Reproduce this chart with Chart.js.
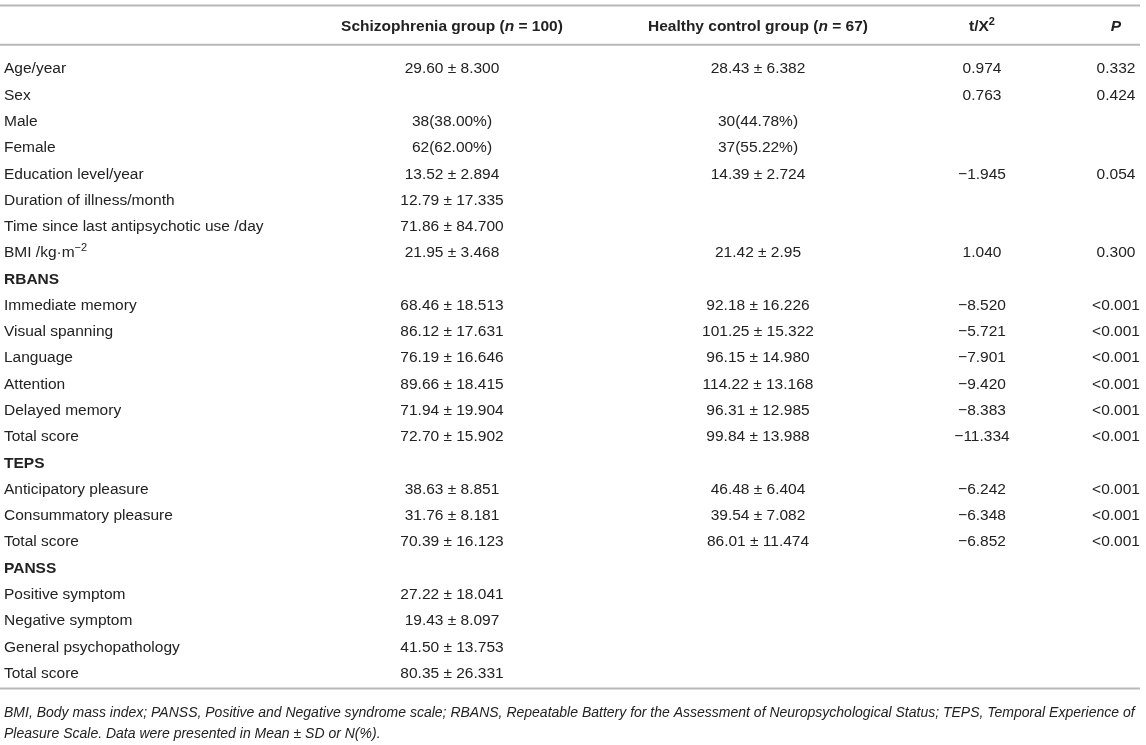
<!DOCTYPE html>
<html>
<head>
<meta charset="utf-8">
<script src="https://cdn.jsdelivr.net/npm/chart.js@4.4.1/dist/chart.umd.min.js"></script>
<style>
  body { margin: 0; background: #fff; }
  #wrap { width: 1146px; height: 745px; position: relative; }
</style>
</head>
<body>
<div id="wrap"><canvas id="tableChart"></canvas></div>
<script>
// Table content. _x_ = italic, ^x^ = superscript
const columnHeaders = ['', 'Schizophrenia group (_n_ = 100)', 'Healthy control group (_n_ = 67)', 't/X^2^', '_P_'];

const rowLabels = ['Age/year', 'Sex', 'Male', 'Female', 'Education level/year', 'Duration of illness/month',
  'Time since last antipsychotic use /day', 'BMI /kg·m^−2^', 'RBANS', 'Immediate memory', 'Visual spanning',
  'Language', 'Attention', 'Delayed memory', 'Total score', 'TEPS', 'Anticipatory pleasure',
  'Consummatory pleasure', 'Total score', 'PANSS', 'Positive symptom', 'Negative symptom',
  'General psychopathology', 'Total score'];

const sectionRows = ['RBANS', 'TEPS', 'PANSS'];

const schizophreniaValues = ['29.60 ± 8.300', '', '38(38.00%)', '62(62.00%)', '13.52 ± 2.894', '12.79 ± 17.335',
  '71.86 ± 84.700', '21.95 ± 3.468', '', '68.46 ± 18.513', '86.12 ± 17.631', '76.19 ± 16.646', '89.66 ± 18.415',
  '71.94 ± 19.904', '72.70 ± 15.902', '', '38.63 ± 8.851', '31.76 ± 8.181', '70.39 ± 16.123', '',
  '27.22 ± 18.041', '19.43 ± 8.097', '41.50 ± 13.753', '80.35 ± 26.331'];

const healthyValues = ['28.43 ± 6.382', '', '30(44.78%)', '37(55.22%)', '14.39 ± 2.724', '', '',
  '21.42 ± 2.95', '', '92.18 ± 16.226', '101.25 ± 15.322', '96.15 ± 14.980', '114.22 ± 13.168',
  '96.31 ± 12.985', '99.84 ± 13.988', '', '46.48 ± 6.404', '39.54 ± 7.082', '86.01 ± 11.474', '',
  '', '', '', ''];

const testValues = ['0.974', '0.763', '', '', '−1.945', '', '', '1.040', '', '−8.520', '−5.721', '−7.901',
  '−9.420', '−8.383', '−11.334', '', '−6.242', '−6.348', '−6.852', '', '', '', '', ''];

const pValues = ['0.332', '0.424', '', '', '0.054', '', '', '0.300', '', '<0.001', '<0.001', '<0.001',
  '<0.001', '<0.001', '<0.001', '', '<0.001', '<0.001', '<0.001', '', '', '', '', ''];

const footnoteLines = [
  'BMI, Body mass index; PANSS, Positive and Negative syndrome scale; RBANS, Repeatable Battery for the Assessment of Neuropsychological Status; TEPS, Temporal Experience of',
  'Pleasure Scale. Data were presented in Mean ± SD or N(%).'
];

// Layout (x in px, y in row units)
const FONT = '"Liberation Sans", Arial, sans-serif';
const TEXT_COLOR = '#222';
const RULE_COLOR = '#b8b8b8';
const colX = [4, 452, 758, 982, 1116];
const colAlign = ['left', 'center', 'center', 'center', 'center'];
const headerY = -1.6;
const ruleY = [-2.42, -0.93, 23.57];
const footnoteY = [24.5, 25.3];

function parseRich(str) {
  return str.split(/(_[^_]+_|\^[^^]+\^)/).filter(s => s).map(s => {
    if (s.length > 2 && s[0] === '_' && s.endsWith('_')) return { t: s.slice(1, -1), italic: true };
    if (s.length > 2 && s[0] === '^' && s.endsWith('^')) return { t: s.slice(1, -1), sup: true };
    return { t: s };
  });
}

function drawRich(ctx, str, x, y, align, style) {
  const size = style.size || 15.5;
  const segs = parseRich(str);
  const fontFor = s => `${style.italic || s.italic ? 'italic ' : ''}${style.bold ? 'bold ' : ''}${s.sup ? Math.round(size * 0.68) : size}px ${FONT}`;
  let total = 0;
  segs.forEach(s => { ctx.font = fontFor(s); s.w = ctx.measureText(s.t).width; total += s.w; });
  let cx = align === 'left' ? x : align === 'right' ? x - total : x - total / 2;
  segs.forEach(s => {
    ctx.font = fontFor(s);
    ctx.fillText(s.t, cx, s.sup ? y - size * 0.36 : y);
    cx += s.w;
  });
}

// Build cell datasets: each text cell is an invisible point positioned by the scales
function cellDataset(texts, col, rows, style) {
  return {
    type: 'scatter',
    data: texts.map((t, i) => ({ x: colX[col], y: rows[i], text: t })),
    pointRadius: 0,
    textAlign: colAlign[col],
    textStyle: style
  };
}

const rowIdx = rowLabels.map((_, i) => i);
const datasets = [];

ruleY.forEach(y => {
  datasets.push({
    type: 'scatter',
    showLine: true,
    data: [{ x: 0, y: y }, { x: 1140, y: y }],
    borderColor: RULE_COLOR,
    borderWidth: 2,
    pointRadius: 0
  });
});

// header cells, one per column
const headerDs = cellDataset(columnHeaders, 0, columnHeaders.map(() => headerY), { bold: true });
headerDs.data = columnHeaders.map((t, c) => ({ x: colX[c], y: headerY, text: t, align: colAlign[c] }));
datasets.push(headerDs);

rowLabels.forEach((label, i) => {
  datasets.push(cellDataset([label], 0, [i], { bold: sectionRows.includes(label) }));
});
datasets.push(cellDataset(schizophreniaValues, 1, rowIdx, {}));
datasets.push(cellDataset(healthyValues, 2, rowIdx, {}));
datasets.push(cellDataset(testValues, 3, rowIdx, {}));
datasets.push(cellDataset(pValues, 4, rowIdx, {}));
datasets.push(cellDataset(footnoteLines, 0, footnoteY, { italic: true, size: 14 }));

const tableText = {
  id: 'tableText',
  afterDatasetsDraw(chart) {
    const ctx = chart.ctx;
    ctx.save();
    ctx.fillStyle = TEXT_COLOR;
    ctx.textBaseline = 'middle';
    ctx.textAlign = 'left';
    chart.data.datasets.forEach((ds, di) => {
      if (!ds.textStyle) return;
      const meta = chart.getDatasetMeta(di);
      meta.data.forEach((pt, i) => {
        const cell = ds.data[i];
        if (!cell.text) return;
        drawRich(ctx, cell.text, pt.x, pt.y, cell.align || ds.textAlign, ds.textStyle);
      });
    });
    ctx.restore();
  }
};

new Chart(document.getElementById('tableChart'), {
  type: 'scatter',
  data: { datasets: datasets },
  options: {
    responsive: true,
    maintainAspectRatio: false,
    animation: false,
    events: [],
    layout: { padding: 0 },
    clip: false,
    plugins: { legend: { display: false }, tooltip: { enabled: false } },
    scales: {
      x: { type: 'linear', min: 0, max: 1146, display: false },
      y: { type: 'linear', min: -2.63, max: 25.72, reverse: true, display: false }
    }
  },
  plugins: [tableText]
});
</script>
</body>
</html>
